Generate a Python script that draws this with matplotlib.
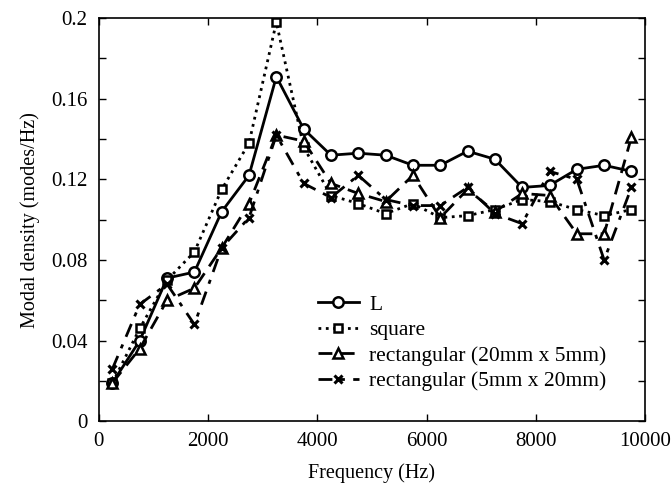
import matplotlib.pyplot as plt
import numpy as np
from matplotlib.ticker import MultipleLocator

plt.rcParams['font.family'] = ['Liberation Serif', 'DejaVu Serif']

freq = [250, 750, 1250, 1750, 2250, 2750, 3250, 3750, 4250, 4750,
        5250, 5750, 6250, 6750, 7250, 7750, 8250, 8750, 9250, 9750]

L_shape = [0.019, 0.040, 0.071, 0.074, 0.104, 0.122, 0.171, 0.145, 0.132, 0.133,
           0.132, 0.127, 0.127, 0.134, 0.130, 0.116, 0.117, 0.125, 0.127, 0.124]
square = [0.019, 0.046, 0.070, 0.084, 0.115, 0.138, 0.198, 0.136, 0.112, 0.108,
          0.103, 0.108, 0.101, 0.102, 0.105, 0.110, 0.109, 0.105, 0.102, 0.105]
rect_20x5 = [0.019, 0.036, 0.060, 0.066, 0.086, 0.108, 0.142, 0.139, 0.118, 0.113,
             0.109, 0.122, 0.101, 0.115, 0.104, 0.113, 0.112, 0.093, 0.093, 0.141]
rect_5x20 = [0.026, 0.058, 0.068, 0.048, 0.086, 0.101, 0.142, 0.118, 0.111, 0.122,
             0.110, 0.107, 0.107, 0.116, 0.103, 0.098, 0.124, 0.120, 0.080, 0.116]

fig = plt.figure(figsize=(6.72, 4.92), dpi=100)
ax = fig.add_axes([0.147, 0.144, 0.813, 0.819])

ax.plot(freq, L_shape, '-', color='k', lw=2, marker='o', ms=7.5,
        mfc='white', mew=1.8, label='L')
ax.plot(freq, square, ':', color='k', lw=2, marker='s', ms=5.5,
        mfc='white', mew=1.8, label='square')
ax.plot(freq, rect_20x5, '--', color='k', lw=2, marker='^', ms=6.5,
        mfc='white', mew=1.8, dashes=(5, 3), label='rectangular (20mm x 5mm)')
ax.plot(freq, rect_5x20, '-.', color='k', lw=2, marker='x', ms=6,
        mew=2.2, dashes=(5, 3, 1.5, 3), label='rectangular (5mm x 20mm)')

ax.set_xlim(0, 10000)
ax.set_ylim(0, 0.2)
ax.xaxis.set_major_locator(MultipleLocator(2000))
ax.yaxis.set_major_locator(MultipleLocator(0.04))
ax.yaxis.set_minor_locator(MultipleLocator(0.02))
ax.set_yticklabels(['0' if v == 0 else f'{v:g}' for v in ax.get_yticks()])
ax.tick_params(which='both', direction='in', top=True, right=True,
               length=5, width=1, labelsize=15, pad=8)
for s in ax.spines.values():
    s.set_linewidth(1.2)

ax.set_xlabel('Frequency (Hz)', fontsize=14.5, labelpad=9)
ax.set_ylabel('Modal density (modes/Hz)', fontsize=14.5, labelpad=8)

ax.legend(loc='upper left', bbox_to_anchor=(0.385, 0.335), frameon=False,
          fontsize=15.5, handlelength=1.9, handletextpad=0.5, labelspacing=0.25,
          borderaxespad=0)

fig.savefig('out.png', dpi=100)
